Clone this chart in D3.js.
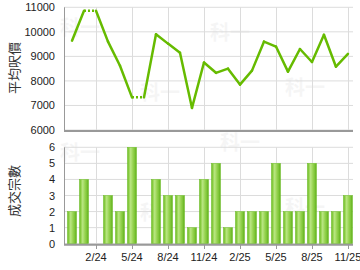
<!DOCTYPE html>
<html><head><meta charset="utf-8">
<script src="https://cdn.jsdelivr.net/npm/d3@7"></script>
<style>body{margin:0;background:#fff}svg{display:block}</style>
</head><body>
<svg id="c" width="360" height="270"></svg>
<script>
const months = ["12/23","1/24","2/24","3/24","4/24","5/24","6/24","7/24","8/24","9/24","10/24","11/24","12/24","1/25","2/25","3/25","4/25","5/25","6/25","7/25","8/25","9/25","10/25","11/25"];
const avgPrice = [9640,10860,null,9600,8620,7330,null,9900,9520,9150,6900,8750,8330,8500,7850,8420,9600,9400,8380,9300,8770,9880,8580,9100];
const deals = [2,4,0,3,2,6,0,4,3,3,1,4,5,1,2,2,2,5,2,2,5,2,2,3];
const xTickLabels = ["2/24","5/24","8/24","11/24","2/25","5/25","8/25","11/25"];
const priceTicks = [6000,7000,8000,9000,10000,11000];
const dealTicks = [0,1,2,3,4,5,6];

const svg = d3.select("#c");
const L = 64, R = 353;
const x = d3.scaleLinear().domain([-0.667, 23.42]).range([L, R]);
const yTop = d3.scaleLinear().domain([6000, 11000]).range([130, 7.3]);
const yBot = d3.scaleLinear().domain([0, 6]).range([243.7, 147.3]);
const font = "'Liberation Sans', Arial, sans-serif";
const gridC = "#dcdcdc";

const defs = svg.append("defs");
const g = defs.append("linearGradient").attr("id","bg").attr("x1","0").attr("x2","1").attr("y1","0").attr("y2","0");
[[0,"#62b21a"],[0.15,"#8fd048"],[0.35,"#b9e682"],[0.6,"#98d452"],[0.85,"#78c232"],[1,"#5aa814"]].forEach(([o,c])=>g.append("stop").attr("offset",o).attr("stop-color",c));

// watermarks
const wm = [[80,35],[230,40],[160,100],[305,95],[80,160],[160,220],[240,150],[305,215]];
svg.append("g").selectAll("text").data(wm).join("text")
  .attr("x",d=>d[0]).attr("y",d=>d[1]).attr("text-anchor","middle")
  .attr("font-family","'Noto Sans CJK TC'").attr("font-size",20).attr("font-weight","bold")
  .attr("fill","#000").attr("opacity",0.035).text("科一");

const tickIdx = xTickLabels.map(l => months.indexOf(l));

function panel(y, ticks) {
  const gg = svg.append("g");
  gg.selectAll(".h").data(ticks).join("line")
    .attr("x1",L).attr("x2",R).attr("y1",d=>y(d)).attr("y2",d=>y(d))
    .attr("stroke",gridC).attr("stroke-width",1);
  gg.selectAll(".v").data(tickIdx).join("line")
    .attr("x1",d=>Math.round(x(d))+0.5).attr("x2",d=>Math.round(x(d))+0.5)
    .attr("y1",y.range()[1]).attr("y2",y.range()[0])
    .attr("stroke",gridC).attr("stroke-width",1);
  gg.append("line").attr("x1",L+0.5).attr("x2",L+0.5).attr("y1",y.range()[1]).attr("y2",y.range()[0]+1)
    .attr("stroke","#999").attr("stroke-width",1);
  gg.selectAll(".yl").data(ticks).join("text")
    .attr("x",55).attr("y",d=>y(d)+4).attr("text-anchor","end")
    .attr("font-family",font).attr("font-size",11).attr("fill","#222").text(d=>d);
  return gg;
}

panel(yTop, priceTicks);
panel(yBot, dealTicks);

// bars
svg.append("g").selectAll("rect").data(deals.map((v,i)=>({v,i})).filter(d=>d.v>0)).join("rect")
  .attr("x",d=>x(d.i)-4.5).attr("width",9)
  .attr("y",d=>yBot(d.v)).attr("height",d=>yBot(0)-yBot(d.v))
  .attr("fill","url(#bg)").attr("stroke","#6cbf24").attr("stroke-width",0.5);

// axes bottom lines
svg.append("line").attr("x1",L).attr("x2",R).attr("y1",131).attr("y2",131).attr("stroke","#999").attr("stroke-width",2);
svg.append("line").attr("x1",L).attr("x2",R).attr("y1",244.7).attr("y2",244.7).attr("stroke","#999").attr("stroke-width",2);
svg.append("g").selectAll("line").data(tickIdx).join("line")
  .attr("x1",d=>Math.round(x(d))+0.5).attr("x2",d=>Math.round(x(d))+0.5).attr("y1",245).attr("y2",249)
  .attr("stroke","#999");

// x labels
svg.append("g").selectAll("text").data(xTickLabels).join("text")
  .attr("x",(d,i)=>x(tickIdx[i])).attr("y",261).attr("text-anchor","middle")
  .attr("font-family",font).attr("font-size",11).attr("fill","#222").text(d=>d);

// line: carry-forward, dotted into missing months
const filled = [];
avgPrice.forEach((v,i)=>filled.push(v==null ? filled[i-1] : v));
const segs = [];
for (let i=0;i<filled.length-1;i++) segs.push({a:i,b:i+1,dot:avgPrice[i+1]==null});
svg.append("g").selectAll("line").data(segs).join("line")
  .attr("x1",d=>x(d.a)).attr("y1",d=>yTop(filled[d.a]))
  .attr("x2",d=>x(d.b)).attr("y2",d=>yTop(filled[d.b]))
  .attr("stroke","#66bb00").attr("stroke-width",2.5).attr("stroke-linecap",d=>d.dot?"butt":"round")
  .attr("stroke-dasharray",d=>d.dot?"2,2":null);

// y titles
svg.append("text").attr("transform","translate(19,68) rotate(-90)").attr("text-anchor","middle")
  .attr("font-family","'Noto Sans CJK TC'").attr("font-size",13).attr("fill","#333").text("平均呎價");
svg.append("text").attr("transform","translate(19,191) rotate(-90)").attr("text-anchor","middle")
  .attr("font-family","'Noto Sans CJK TC'").attr("font-size",13).attr("fill","#333").text("成交宗數");
</script>
</body></html>
